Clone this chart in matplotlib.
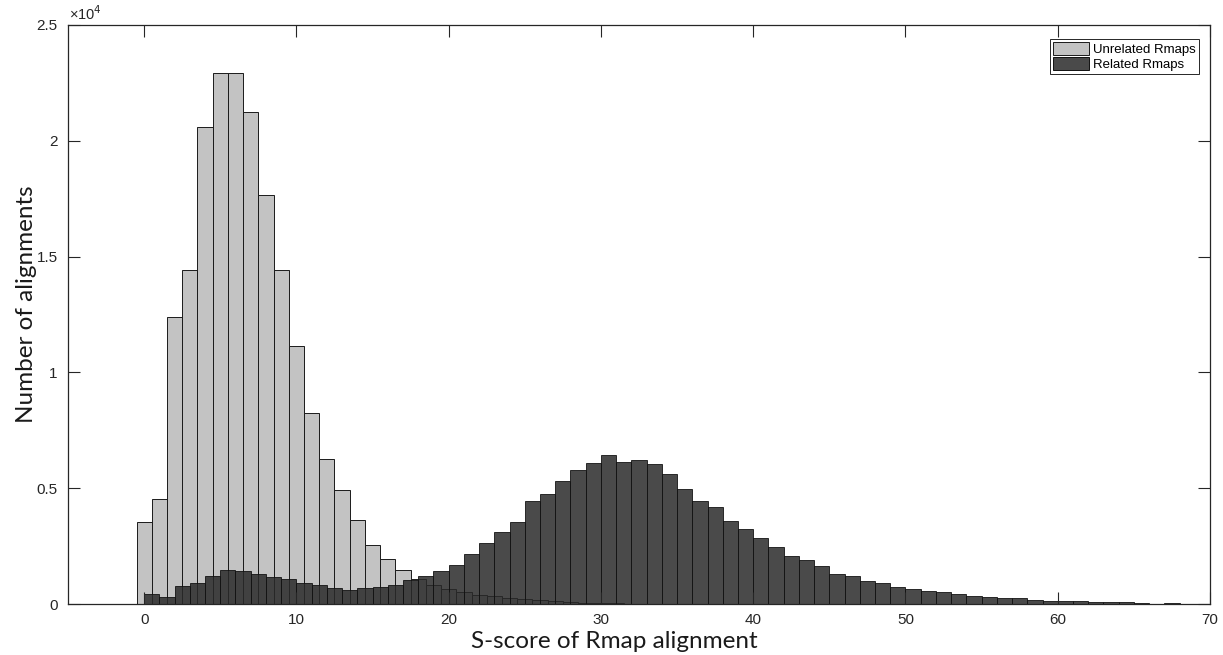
import numpy as np
import matplotlib
matplotlib.use("Agg")
import matplotlib.pyplot as plt
from matplotlib.patches import Patch

# unrelated Rmaps: bins centred on integer S-scores
unrel_centers = list(range(0, 35))
unrel_counts = [3550, 4530, 12400, 14400, 20600, 22940, 22940, 21240, 17660, 14430,
                11150, 8230, 6270, 4920, 3610, 2560, 1940, 1450, 1100, 820,
                630, 530, 390, 330, 250, 200, 170, 140, 95, 60,
                40, 30, 20, 15, 10]

# related Rmaps: bins starting on integer S-scores
rel_left = list(range(0, 68))
rel_counts = [420, 320, 790, 910, 1220, 1470, 1440, 1300, 1170, 1070,
              900, 815, 685, 620, 680, 755, 825, 1030, 1190, 1415,
              1680, 2170, 2625, 3120, 3530, 4430, 4740, 5320, 5770, 6090,
              6420, 6140, 6220, 6040, 5610, 4950, 4430, 4200, 3570, 3220,
              2860, 2450, 2090, 1900, 1630, 1310, 1210, 1010, 890, 720,
              630, 560, 500, 420, 365, 310, 240, 250, 170, 150,
              120, 120, 70, 85, 70, 30, 20, 30]

yticks = [0, 5000, 10000, 15000, 20000, 25000]
ytick_labels = ["0", "0.5", "1", "1.5", "2", "2.5"]
xticks = [0, 10, 20, 30, 40, 50, 60, 70]

plt.rcParams["font.family"] = ["Liberation Sans", "DejaVu Sans"]

fig = plt.figure(figsize=(12.23, 6.55), dpi=100)
ax = fig.add_axes([68/1223, 51/655, 1142/1223, 579/655])

light = "#c3c3c3"
dark = "#2a2a2a"
ax.bar(unrel_centers, unrel_counts, width=1, align="center", color=light,
       edgecolor="#1a1a1a", linewidth=0.7, label="Unrelated Rmaps")
ax.bar(rel_left, rel_counts, width=1, align="edge", color=dark, alpha=0.85,
       edgecolor="#111111", linewidth=0.7, label="Related Rmaps")

ax.set_xlim(-5, 70)
ax.set_ylim(0, 25000)
ax.set_xticks(xticks)
ax.set_yticks(yticks)
ax.set_yticklabels(ytick_labels)
ax.tick_params(direction="in", length=8.5, width=0.8, top=True, right=True,
               labelsize=11, colors="#262626")
ax.tick_params(axis="y", pad=7.5)
ax.tick_params(axis="x", pad=6.5)
for s in ax.spines.values():
    s.set_linewidth(0.9)
    s.set_color("#262626")

ax.text(0.001, 1.003, "\u00d710$^4$", transform=ax.transAxes, ha="left", va="bottom",
        fontsize=10.5, color="#262626")

ax.set_xlabel("S-score of Rmap alignment", fontsize=17.5, family=["Lato", "DejaVu Sans"],
              color="#1a1a1a")
ax.set_ylabel("Number of alignments", fontsize=17.5, family=["Lato", "DejaVu Sans"],
              color="#1a1a1a")
ax.xaxis.set_label_coords(0.478, -0.046)
ax.yaxis.set_label_coords(-0.027, 0.518)

handles = [Patch(facecolor=light, edgecolor="#1a1a1a", linewidth=0.7),
           Patch(facecolor="#4a4a4a", edgecolor="#111111", linewidth=0.7)]
leg = ax.legend(handles, ["Unrelated Rmaps", "Related Rmaps"], loc="upper right",
                bbox_to_anchor=(0.99, 0.976), fontsize=9.5, fancybox=False,
                framealpha=1, edgecolor="#262626", handlelength=2.7, handleheight=1.1,
                handletextpad=0.3, borderpad=0.25, labelspacing=0.1, borderaxespad=0)
leg.get_frame().set_linewidth(0.7)

fig.savefig("out.png", dpi=100)
